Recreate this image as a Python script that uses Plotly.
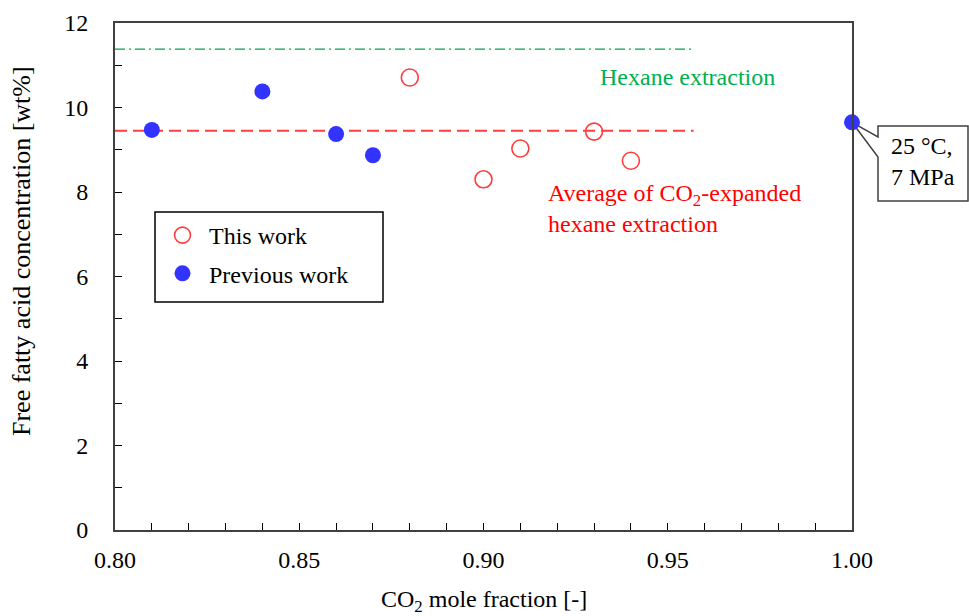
import plotly.graph_objects as go

# ---- data ----
this_x = [0.88, 0.90, 0.91, 0.93, 0.94]
this_y = [10.71, 8.30, 9.03, 9.43, 8.74]
prev_x = [0.81, 0.84, 0.86, 0.87, 1.00]
prev_y = [9.47, 10.38, 9.37, 8.87, 9.65]
hexane_level = 11.38
co2_avg_level = 9.45
ref_line_x = [0.80, 0.957]
callout_point = (1.00, 9.65)
x_tick_vals = [0.80, 0.81, 0.82, 0.83, 0.84, 0.85, 0.86, 0.87, 0.88, 0.89, 0.90,
               0.91, 0.92, 0.93, 0.94, 0.95, 0.96, 0.97, 0.98, 0.99, 1.00]
x_tick_labels = ["0.80", "", "", "", "", "0.85", "", "", "", "", "0.90",
                 "", "", "", "", "0.95", "", "", "", "", "1.00"]
y_tick_vals = [0, 1, 2, 3, 4, 5, 6, 7, 8, 9, 10, 11, 12]
y_tick_labels = ["0", "", "2", "", "4", "", "6", "", "8", "", "10", "", "12"]

FONT = "Liberation Serif, Times New Roman, serif"
W, H = 969, 616
ML, MR, MT, MB = 115, 117, 23, 86
PW, PH = W - ML - MR, H - MT - MB
XR, YR = (0.80, 1.00), (0, 12)

def px2paper(px, py):
    return (px - ML) / PW, (H - MB - py) / PH

fig = go.Figure()

fig.add_trace(go.Scatter(
    x=ref_line_x, y=[hexane_level] * 2, mode="lines",
    line=dict(color="#00a550", width=1.3, dash="10px,4px,2px,4px"),
    showlegend=False, hoverinfo="skip"))
fig.add_trace(go.Scatter(
    x=ref_line_x, y=[co2_avg_level] * 2, mode="lines",
    line=dict(color="#ff3f3f", width=2, dash="12px,6px"),
    showlegend=False, hoverinfo="skip"))

fig.add_trace(go.Scatter(
    x=this_x, y=this_y, mode="markers", name="This work",
    legendgroup="a",
    marker=dict(symbol="circle-open", size=17, color="#ff3b3b",
                line=dict(width=1.6, color="#ff3b3b")),
    cliponaxis=False))
fig.add_trace(go.Scatter(
    x=prev_x, y=prev_y, mode="markers", name="Previous work",
    legendgroup="b",
    marker=dict(symbol="circle", size=16, color="#3333ff"),
    cliponaxis=False))

# callout box with wedge pointing at the point
tipx = (callout_point[0] - XR[0]) / (XR[1] - XR[0])
tipy = (callout_point[1] - YR[0]) / (YR[1] - YR[0])
bx0, by0 = px2paper(878, 126)
bx1, by1 = px2paper(968, 201)
_, wy0 = px2paper(878, 137)
_, wy1 = px2paper(878, 157)
path = (f"M {bx0} {by0} L {bx1} {by0} L {bx1} {by1} L {bx0} {by1} "
        f"L {bx0} {wy1} L {tipx} {tipy} L {bx0} {wy0} Z")
fig.add_shape(type="path", xref="paper", yref="paper", path=path,
              line=dict(color="#404040", width=1.5), fillcolor="white",
              layer="below")

# legend frame
lbx0, lby0 = px2paper(155, 212)
lbx1, lby1 = px2paper(383, 302)
fig.add_shape(type="rect", xref="paper", yref="paper",
              x0=lbx0, y0=lby1, x1=lbx1, y1=lby0,
              line=dict(color="black", width=1.5), fillcolor="white",
              layer="below")

tx, ty = px2paper(889, 162)
fig.add_annotation(xref="paper", yref="paper", x=tx, y=ty,
                   text="25 °C,<br>7 MPa", showarrow=False,
                   xanchor="left", yanchor="middle", align="left",
                   font=dict(family=FONT, size=24, color="black"))

fig.add_annotation(x=0.931, y=10.72, text="Hexane extraction",
                   showarrow=False, xanchor="left", yanchor="middle",
                   font=dict(family=FONT, size=24, color="#00b050"))
fig.add_annotation(x=0.917, y=7.62,
                   text="Average of CO<sub>2</sub>-expanded<br>hexane extraction",
                   showarrow=False, xanchor="left", yanchor="middle", align="left",
                   font=dict(family=FONT, size=24, color="#ff0000"))

yx, yy = px2paper(22, 251)
fig.add_annotation(xref="paper", yref="paper", x=yx, y=yy,
                   text="Free fatty acid concentration [wt%]", textangle=-90,
                   showarrow=False, xanchor="center", yanchor="middle",
                   font=dict(family=FONT, size=26, color="black"))

xtx, xty = px2paper(484, 601)
fig.add_annotation(xref="paper", yref="paper", x=xtx, y=xty,
                   text="CO<sub>2</sub> mole fraction [-]",
                   showarrow=False, xanchor="center", yanchor="middle",
                   font=dict(family=FONT, size=24, color="black"))

axis_common = dict(showgrid=False, zeroline=False, showline=True,
                   linecolor="#404040", linewidth=2, mirror=True,
                   ticks="inside", ticklen=7, tickcolor="black", tickwidth=1,
                   automargin=False,
                   tickfont=dict(family=FONT, size=24, color="black"))

fig.update_xaxes(range=list(XR), tickmode="array", tickvals=x_tick_vals,
                 ticktext=x_tick_labels, ticklabelstandoff=7,
                 **axis_common)
fig.update_yaxes(range=list(YR), tickmode="array", tickvals=y_tick_vals,
                 ticktext=y_tick_labels, ticklabelstandoff=20,
                 **axis_common)

lx, ly = px2paper(156, 213)
fig.update_layout(
    width=W, height=H,
    margin=dict(l=ML, r=MR, t=MT, b=MB),
    paper_bgcolor="white", plot_bgcolor="white",
    showlegend=True,
    legend=dict(x=lx, y=ly, xanchor="left", yanchor="top",
                bgcolor="rgba(0,0,0,0)", borderwidth=0,
                font=dict(family=FONT, size=24, color="black"),
                itemwidth=43,
                traceorder="grouped", tracegroupgap=4),
)

fig.write_html("out.html")
